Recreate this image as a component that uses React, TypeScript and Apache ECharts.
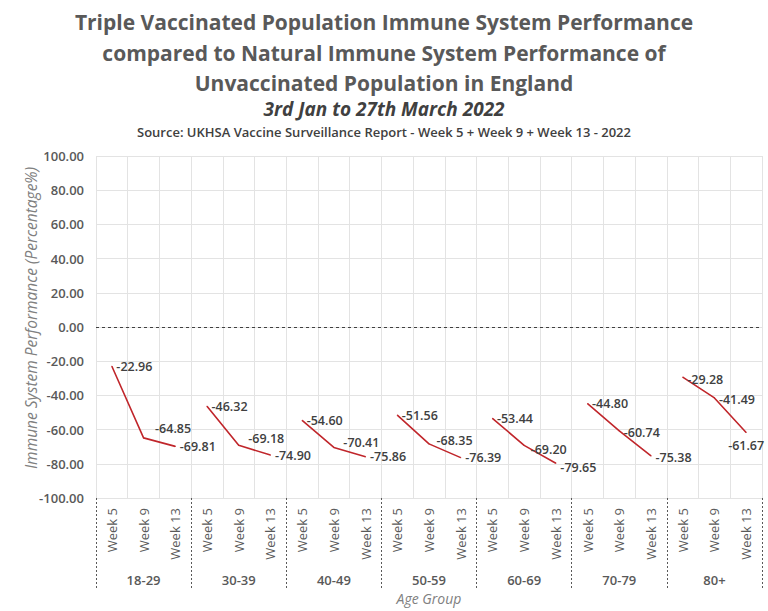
import React, { useEffect, useRef } from "react";
import * as echarts from "echarts";

const weeks = ["Week 5", "Week 9", "Week 13"];
const ageGroups = ["18-29", "30-39", "40-49", "50-59", "60-69", "70-79", "80+"];
const values18_29 = [-22.96, -64.85, -69.81];
const values30_39 = [-46.32, -69.18, -74.9];
const values40_49 = [-54.6, -70.41, -75.86];
const values50_59 = [-51.56, -68.35, -76.39];
const values60_69 = [-53.44, -69.2, -79.65];
const values70_79 = [-44.8, -60.74, -75.38];
const values80plus = [-29.28, -41.49, -61.67];
const groupValues = [values18_29, values30_39, values40_49, values50_59, values60_69, values70_79, values80plus];
const yTicks = { min: -100, max: 100, interval: 20 };

// label style tweaks (position/offset per point)
const labelStyles: Array<Array<{ position: string; offset: [number, number] }>> = [
  [{ position: "right", offset: [0, 0] }, { position: "right", offset: [7, -9] }, { position: "right", offset: [0, 0] }],
  [{ position: "right", offset: [0, 0] }, { position: "right", offset: [5, -7] }, { position: "right", offset: [0, 0] }],
  [{ position: "right", offset: [0, 0] }, { position: "right", offset: [5, -5] }, { position: "right", offset: [0, 0] }],
  [{ position: "right", offset: [0, 0] }, { position: "right", offset: [3, -3] }, { position: "right", offset: [0, 0] }],
  [{ position: "right", offset: [0, 0] }, { position: "right", offset: [2, 4] }, { position: "right", offset: [0, 4] }],
  [{ position: "right", offset: [0, 0] }, { position: "right", offset: [0, 2] }, { position: "right", offset: [0, 2] }],
  [{ position: "right", offset: [0, 2] }, { position: "right", offset: [0, 2] }, { position: "bottom", offset: [0, 2] }],
];

const FONT = "'Open Sans', sans-serif";
const GRAY = "#595959";
const RED = "#c0262b";

export default function App() {
  const ref = useRef<HTMLDivElement>(null);
  useEffect(() => {
    if (!ref.current) return;
    const chart = echarts.init(ref.current, null, { renderer: "svg" });
    const categories: string[] = [];
    ageGroups.forEach(() => weeks.forEach((w) => categories.push(w)));
    const n = categories.length;

    const series: any[] = groupValues.map((vals, g) => {
      const data: any[] = new Array(n).fill(null);
      vals.forEach((v, i) => {
        const ls = labelStyles[g][i];
        data[g * 3 + i] = {
          value: v,
          label: { position: ls.position, offset: ls.offset },
        };
      });
      return {
        type: "line",
        name: ageGroups[g],
        xAxisIndex: 0,
        yAxisIndex: 0,
        data,
        symbol: "circle",
        symbolSize: 1,
        showSymbol: true,
        lineStyle: { color: RED, width: 1.6 },
        itemStyle: { color: RED },
        label: {
          show: true,
          formatter: (p: any) => Number(p.value).toFixed(2),
          color: "#404040",
          fontFamily: FONT,
          fontSize: 12.5,
          fontWeight: 600,
          distance: 4,
        },
        z: 3,
      };
    });
    series[0].markLine = {
      silent: true,
      symbol: "none",
      label: { show: false },
      lineStyle: { color: "#404040", type: [3, 3], width: 1 },
      data: [{ yAxis: 0 }],
    };
    series.push({
      type: "line",
      xAxisIndex: 1,
      yAxisIndex: 1,
      data: [],
    });

    const option: any = {
      animation: false,
      backgroundColor: "#ffffff",
      grid: [
        { left: 96, right: 6, top: 156, bottom: 113, containLabel: false },
        { left: 96, right: 6, top: 156, bottom: 113, containLabel: false },
      ],
      xAxis: [
        {
          type: "category",
          gridIndex: 0,
          data: categories,
          boundaryGap: true,
          axisLine: { show: false, onZero: false },
          axisTick: { show: false },
          splitLine: { show: true, interval: 0, lineStyle: { color: "#e3e3e3", width: 1 } },
          axisLabel: {
            interval: 0,
            rotate: 90,
            margin: 10,
            color: GRAY,
            fontFamily: FONT,
            fontSize: 13,
          },
        },
        {
          type: "category",
          gridIndex: 1,
          data: ageGroups,
          boundaryGap: true,
          position: "bottom",
          axisLine: { show: false, onZero: false },
          axisTick: {
            show: true,
            length: 91,
            inside: false,
            lineStyle: { color: "#595959", type: [2, 2], width: 1 },
          },
          splitLine: { show: false },
          axisLabel: {
            interval: 0,
            margin: 75,
            color: GRAY,
            fontFamily: FONT,
            fontSize: 13,
            fontWeight: 600,
          },
        },
      ],
      yAxis: [
        {
          type: "value",
          gridIndex: 0,
          min: yTicks.min,
          max: yTicks.max,
          interval: yTicks.interval,
          axisLine: { show: false },
          axisTick: { show: false },
          splitLine: { show: true, lineStyle: { color: "#e3e3e3", width: 1 } },
          axisLabel: {
            formatter: (v: number) => v.toFixed(2),
            color: GRAY,
            fontFamily: FONT,
            fontSize: 13,
            fontWeight: 600,
            margin: 12,
          },
        },
        {
          type: "value",
          gridIndex: 1,
          min: yTicks.min,
          max: yTicks.max,
          show: false,
        },
      ],
      graphic: [
        {
          type: "text",
          left: "center",
          top: 7,
          style: {
            text: "Triple Vaccinated Population Immune System Performance\ncompared to Natural Immune System Performance of\nUnvaccinated Population in England",
            fill: GRAY,
            font: `bold 21px ${FONT}`,
            textAlign: "center",
            lineHeight: 30.5,
          },
        },
        {
          type: "text",
          left: "center",
          top: 99,
          style: {
            text: "3rd Jan to 27th March 2022",
            fill: "#404040",
            font: `italic bold 19px ${FONT}`,
            textAlign: "center",
          },
        },
        {
          type: "text",
          left: "center",
          top: 125,
          style: {
            text: "Source: UKHSA Vaccine Surveillance Report - Week 5 + Week 9 + Week 13 - 2022",
            fill: "#404040",
            font: `600 13px ${FONT}`,
            textAlign: "center",
          },
        },
        {
          type: "text",
          x: 31,
          y: 318,
          rotation: Math.PI / 2,
          style: {
            text: "Immune System Performance (Percentage%)",
            fill: "#808080",
            font: `italic 15.5px ${FONT}`,
            textAlign: "center",
            textVerticalAlign: "middle",
          },
        },
        {
          type: "text",
          x: 429,
          y: 598,
          style: {
            text: "Age Group",
            fill: "#808080",
            font: `italic 14px ${FONT}`,
            textAlign: "center",
            textVerticalAlign: "middle",
          },
        },
      ],
      series,
    };
    chart.setOption(option);
    return () => chart.dispose();
  }, []);
  return <div ref={ref} style={{ position: "absolute", left: 0, top: 0, width: 768, height: 611 }} />;
}
